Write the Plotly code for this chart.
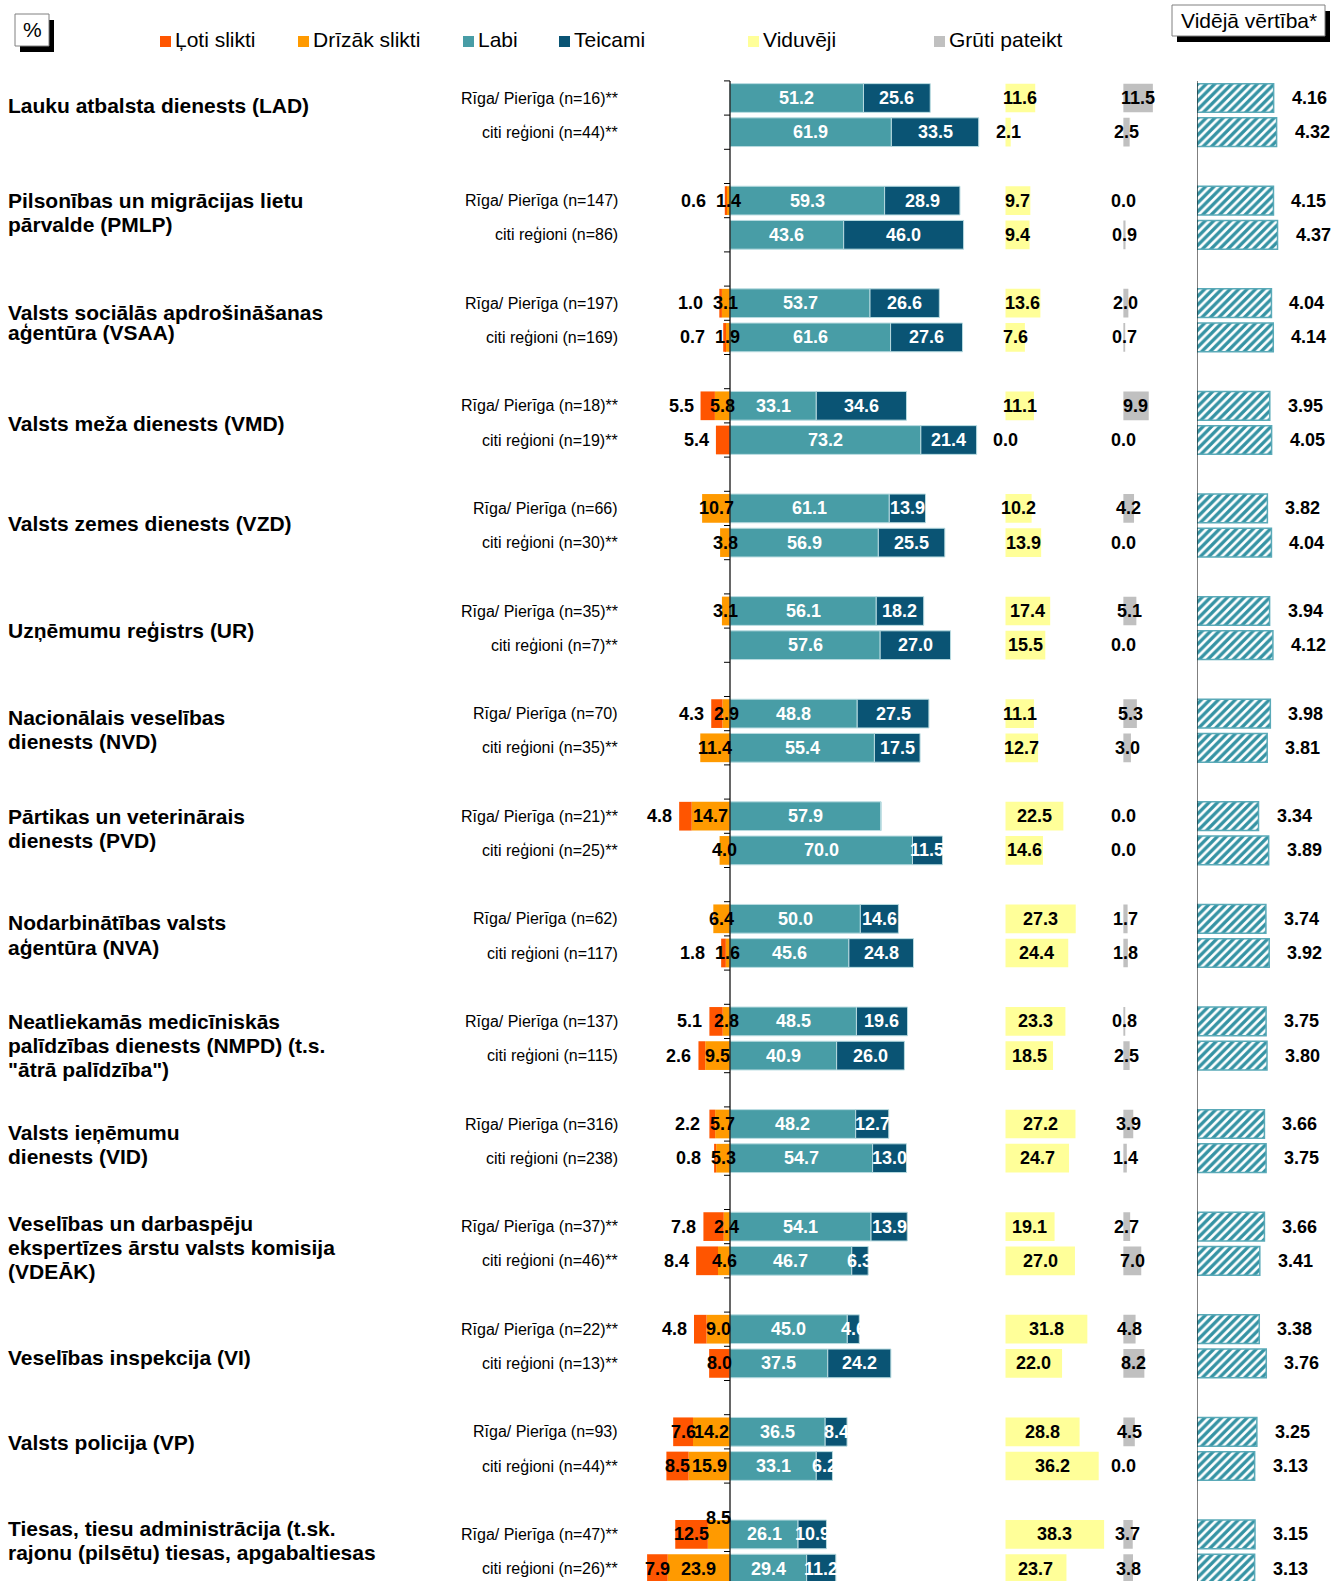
import plotly.graph_objects as go

# ---------------- data ----------------
group_labels = [
    ["Lauku atbalsta dienests (LAD)"],
    ["Pilsonības un migrācijas lietu", "pārvalde (PMLP)"],
    ["Valsts sociālās apdrošināšanas", "aģentūra (VSAA)"],
    ["Valsts meža dienests (VMD)"],
    ["Valsts zemes dienests (VZD)"],
    ["Uzņēmumu reģistrs (UR)"],
    ["Nacionālais veselības", "dienests (NVD)"],
    ["Pārtikas un veterinārais", "dienests (PVD)"],
    ["Nodarbinātības valsts", "aģentūra (NVA)"],
    ["Neatliekamās medicīniskās", "palīdzības dienests (NMPD) (t.s.", "\"ātrā palīdzība\")"],
    ["Valsts ieņēmumu", "dienests (VID)"],
    ["Veselības un darbaspēju", "ekspertīzes ārstu valsts komisija", "(VDEĀK)"],
    ["Veselības inspekcija (VI)"],
    ["Valsts policija (VP)"],
    ["Tiesas, tiesu administrācija (t.sk.", "rajonu (pilsētu) tiesas, apgabaltiesas"],
]

row_labels = [
    "Rīga/ Pierīga (n=16)**", "citi reģioni (n=44)**",
    "Rīga/ Pierīga (n=147)", "citi reģioni (n=86)",
    "Rīga/ Pierīga (n=197)", "citi reģioni (n=169)",
    "Rīga/ Pierīga (n=18)**", "citi reģioni (n=19)**",
    "Rīga/ Pierīga (n=66)", "citi reģioni (n=30)**",
    "Rīga/ Pierīga (n=35)**", "citi reģioni (n=7)**",
    "Rīga/ Pierīga (n=70)", "citi reģioni (n=35)**",
    "Rīga/ Pierīga (n=21)**", "citi reģioni (n=25)**",
    "Rīga/ Pierīga (n=62)", "citi reģioni (n=117)",
    "Rīga/ Pierīga (n=137)", "citi reģioni (n=115)",
    "Rīga/ Pierīga (n=316)", "citi reģioni (n=238)",
    "Rīga/ Pierīga (n=37)**", "citi reģioni (n=46)**",
    "Rīga/ Pierīga (n=22)**", "citi reģioni (n=13)**",
    "Rīga/ Pierīga (n=93)", "citi reģioni (n=44)**",
    "Rīga/ Pierīga (n=47)**", "citi reģioni (n=26)**",
]

loti = [0, 0, 0.6, 0, 1.0, 0.7, 5.5, 5.4, 0, 0, 0, 0, 4.3, 0, 4.8, 0,
        0, 1.8, 5.1, 2.6, 2.2, 0.8, 7.8, 8.4, 4.8, 8.0, 7.6, 8.5, 12.5, 7.9]
drizak = [0, 0, 1.4, 0, 3.1, 1.9, 5.8, 0, 10.7, 3.8, 3.1, 0, 2.9, 11.4, 14.7, 4.0,
          6.4, 1.6, 2.8, 9.5, 5.7, 5.3, 2.4, 4.6, 9.0, 0, 14.2, 15.9, 8.5, 23.9]
labi = [51.2, 61.9, 59.3, 43.6, 53.7, 61.6, 33.1, 73.2, 61.1, 56.9, 56.1, 57.6, 48.8, 55.4,
        57.9, 70.0, 50.0, 45.6, 48.5, 40.9, 48.2, 54.7, 54.1, 46.7, 45.0, 37.5, 36.5, 33.1,
        26.1, 29.4]
teicami = [25.6, 33.5, 28.9, 46.0, 26.6, 27.6, 34.6, 21.4, 13.9, 25.5, 18.2, 27.0, 27.5, 17.5,
           0, 11.5, 14.6, 24.8, 19.6, 26.0, 12.7, 13.0, 13.9, 6.3, 4.6, 24.2, 8.4, 6.2,
           10.9, 11.2]
viduveji = [11.6, 2.1, 9.7, 9.4, 13.6, 7.6, 11.1, 0.0, 10.2, 13.9, 17.4, 15.5, 11.1, 12.7,
            22.5, 14.6, 27.3, 24.4, 23.3, 18.5, 27.2, 24.7, 19.1, 27.0, 31.8, 22.0, 28.8, 36.2,
            38.3, 23.7]
gruti = [11.5, 2.5, 0.0, 0.9, 2.0, 0.7, 9.9, 0.0, 4.2, 0.0, 5.1, 0.0, 5.3, 3.0, 0.0, 0.0,
         1.7, 1.8, 0.8, 2.5, 3.9, 1.4, 2.7, 7.0, 4.8, 8.2, 4.5, 0.0, 3.7, 3.8]
videja = [4.16, 4.32, 4.15, 4.37, 4.04, 4.14, 3.95, 4.05, 3.82, 4.04, 3.94, 4.12, 3.98, 3.81,
          3.34, 3.89, 3.74, 3.92, 3.75, 3.80, 3.66, 3.75, 3.66, 3.41, 3.38, 3.76, 3.25, 3.13,
          3.15, 3.13]

legend_names = ["Ļoti slikti", "Drīzāk slikti", "Labi", "Teicami", "Viduvēji", "Grūti pateikt"]

# ---------------- style / layout ----------------
C_LOTI = "#FF5500"
C_DRIZ = "#FF9A00"
C_LABI = "#489DA6"
C_TEIC = "#0A5474"
C_VID = "#FFFF99"
C_GRU = "#C0C0C0"
C_MEAN = "#3593A4"
legend_colors = [C_LOTI, C_DRIZ, C_LABI, C_TEIC, C_VID, C_GRU]
legend_sq_x = [160, 298, 463, 559, 748, 934]

# per-group placement tweaks of the left-hand names (pixels, + = down) and line spacing
label_dy = [-10, -5, 2, 1, -2, 2, -1, -5, -1, 7, 3, 4, 11, -6, -11]
label_lh = [24.2, 24.2, 19.5, 24.2, 24.2, 24.2, 24.2, 24.2, 24.2, 24.2, 24.2, 24.2, 24.2, 24.2, 24.2]

FONT = "Liberation Sans, Arial, sans-serif"
W, H = 1332, 1581

ROW0_PX = 98.0
ROW_PX = 34.2
ZERO_PX = 730.0
PX_MAIN = 2.607
VID_PX0 = 1005.3
GRU_PX0 = 1123.2
SIDE_PX = 2.58
MEAN_PX0 = 1196.9
PX_MEAN = 18.45
BAR_W = 0.84


def PX(x):
    return x / W


def PY(y):
    return 1 - y / H


n_rows = len(loti)
ys = [3 * (i // 2) + (i % 2) for i in range(n_rows)]
y_top = -ROW0_PX / ROW_PX
y_bot = y_top + H / ROW_PX

fig = go.Figure()


def hbar(x, axis, color, line=None, pattern=None):
    marker = dict(color=color, line=line or dict(width=0))
    if pattern:
        marker["pattern"] = pattern
    fig.add_trace(go.Bar(y=ys, x=x, orientation="h", xaxis=axis, yaxis="y",
                         marker=marker, width=BAR_W, hoverinfo="skip", showlegend=False))


edge = dict(color="#b8dbe0", width=1)
hbar([-v for v in drizak], "x", C_DRIZ)
hbar([-v for v in loti], "x", C_LOTI)
hbar(labi, "x", C_LABI, line=edge)
hbar(teicami, "x", C_TEIC, line=edge)
hbar(viduveji, "x2", C_VID)
hbar(gruti, "x3", C_GRU)
hbar(videja, "x4", "white", line=dict(color="#5aaab8", width=1.5),
     pattern=dict(shape="/", fgcolor=C_MEAN, bgcolor="white", size=6, solidity=0.55,
                  fgopacity=1))

annotations = []


def ann(text, x, y, xref="x", yref="y", size=18, color="black", bold=True,
        xanchor="center", xshift=0, yshift=0):
    annotations.append(dict(text=text, x=x, y=y, xref=xref, yref=yref, showarrow=False,
                            xanchor=xanchor, yanchor="middle", xshift=xshift, yshift=yshift,
                            font=dict(family=FONT, size=size, color=color,
                                      weight="bold" if bold else "normal")))


def lw(v):
    s = f"{v:.1f}"
    return sum(5.0 if c == "." else 10.0 for c in s)


for i in range(n_rows):
    y = ys[i]
    l, d, lb, tc = loti[i], drizak[i], labi[i], teicami[i]
    # sub-label
    ann(row_labels[i], PX(620), y, xref="paper", size=16, bold=False, xanchor="right")
    # diverging labels
    l_inside = False
    if l > 0:
        fits = l * PX_MAIN >= lw(l) - 6
        if d > 0:
            right_edge = (-d - l / 2) * PX_MAIN + lw(l) / 2
            d_left = (-d / 2) * PX_MAIN - lw(d) / 2
            fits = fits and right_edge <= d_left + 3
        l_inside = fits
        if l_inside:
            ann(f"{l:.1f}", -d - l / 2, y)
        else:
            edge_px = -(d + l) * PX_MAIN - 5
            if d > 0:
                edge_px = min(edge_px, (-d / 2) * PX_MAIN - lw(d) / 2 - 8)
            ann(f"{l:.1f}", edge_px / PX_MAIN, y, xanchor="right")
    if d > 0:
        raise_px = 16 if (l_inside and d < 10) else 0
        ann(f"{d:.1f}", -d / 2, y, yshift=raise_px)
    if lb > 0:
        ann(f"{lb:.1f}", lb / 2, y, color="white")
    if tc > 0:
        ann(f"{tc:.1f}", lb + tc / 2, y, color="white")
    ann(f"{viduveji[i]:.1f}", viduveji[i] / 2, y, xref="x2")
    ann(f"{gruti[i]:.1f}", gruti[i] / 2, y, xref="x3")
    ann(f"{videja[i]:.2f}", videja[i], y, xref="x4", xanchor="left", xshift=16)

# group labels
for g, lines in enumerate(group_labels):
    yc = 3 * g + 0.5
    n = len(lines)
    for j, t in enumerate(lines):
        ann(t, PX(6), yc, xref="paper", size=21, xanchor="left",
            yshift=((n - 1) / 2 - j) * label_lh[g] - label_dy[g])

# legend
shapes = []
for name, col, sx in zip(legend_names, legend_colors, legend_sq_x):
    shapes.append(dict(type="rect", xref="paper", yref="paper",
                       x0=PX(sx), x1=PX(sx + 11), y0=PY(47), y1=PY(36),
                       fillcolor=col, line=dict(width=0)))
    annotations.append(dict(text=name, x=PX(sx + 13), y=PY(40), xref="paper", yref="paper",
                            showarrow=False, xanchor="left", yanchor="middle",
                            font=dict(family=FONT, size=21, color="black")))


def box(x0, y0, x1, y1, text, size):
    shapes.append(dict(type="rect", xref="paper", yref="paper",
                       x0=PX(x0 + 5), x1=PX(x1 + 5), y0=PY(y1 + 6), y1=PY(y0 + 6),
                       fillcolor="black", line=dict(width=0)))
    shapes.append(dict(type="rect", xref="paper", yref="paper",
                       x0=PX(x0), x1=PX(x1), y0=PY(y1), y1=PY(y0),
                       fillcolor="white", line=dict(color="#808080", width=1)))
    annotations.append(dict(text=text, x=PX((x0 + x1) / 2), y=PY((y0 + y1) / 2),
                            xref="paper", yref="paper", showarrow=False,
                            xanchor="center", yanchor="middle",
                            font=dict(family=FONT, size=size, color="black")))


box(15, 14, 49, 46, "%", 21)
box(1172, 5, 1325, 36, "Vidējā vērtība*", 21)

# axis lines and ticks
n_slots = 3 * len(group_labels) + 1
shapes.append(dict(type="line", xref="x", yref="y", x0=0, x1=0, y0=-0.5, y1=n_slots,
                   line=dict(color="black", width=1.2)))
shapes.append(dict(type="line", xref="x4", yref="y", x0=0, x1=0, y0=-0.5, y1=n_slots,
                   line=dict(color="black", width=1.2)))
for k in range(n_slots):
    yk = -0.5 + k
    shapes.append(dict(type="line", xref="x", yref="y", xsizemode="pixel", xanchor=0,
                       x0=-6, x1=0, y0=yk, y1=yk, line=dict(color="black", width=1)))
    shapes.append(dict(type="line", xref="x4", yref="y", xsizemode="pixel", xanchor=0,
                       x0=-3, x1=0, y0=yk, y1=yk, line=dict(color="black", width=1)))


def xax(px0, px1, zero_px, scale):
    return dict(domain=[PX(px0), PX(px1)],
                range=[(px0 - zero_px) / scale, (px1 - zero_px) / scale],
                visible=False, fixedrange=True, anchor="y")


fig.update_layout(
    width=W, height=H, margin=dict(l=0, r=0, t=0, b=0, pad=0),
    paper_bgcolor="white", plot_bgcolor="rgba(0,0,0,0)",
    barmode="relative", showlegend=False,
    xaxis=xax(600, 1000, ZERO_PX, PX_MAIN),
    xaxis2=xax(VID_PX0, 1115, VID_PX0, SIDE_PX),
    xaxis3=xax(GRU_PX0, 1190, GRU_PX0, SIDE_PX),
    xaxis4=xax(MEAN_PX0, W, MEAN_PX0, PX_MEAN),
    yaxis=dict(range=[y_bot, y_top], domain=[0, 1], visible=False, fixedrange=True),
    annotations=annotations, shapes=shapes,
)

fig.write_html("out.html",
               config={"displayModeBar": False},
               post_script="document.body.style.margin='0';"
                           "document.documentElement.style.overflow='hidden';")
